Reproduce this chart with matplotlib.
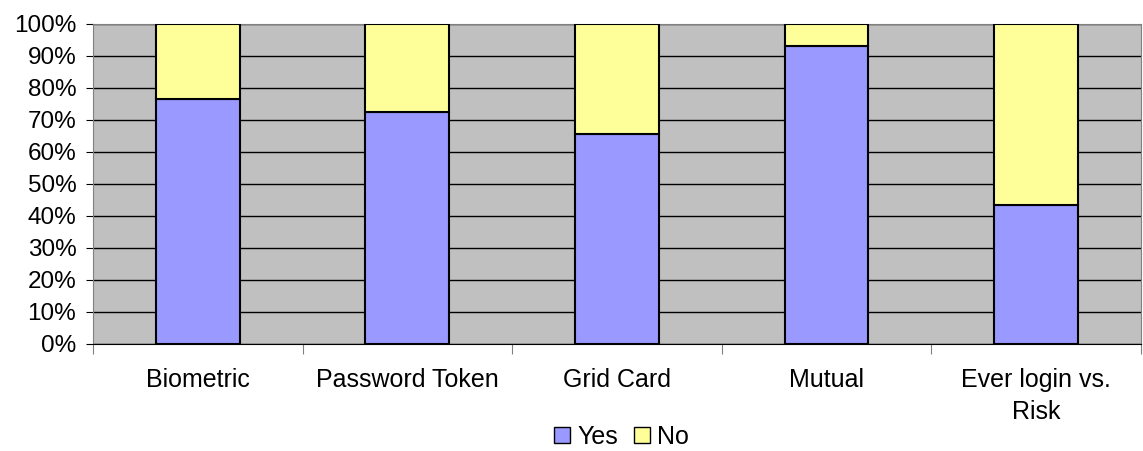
import numpy as np
import matplotlib.pyplot as plt
from matplotlib.patches import Patch

plt.rcParams['font.family'] = ['Liberation Sans', 'DejaVu Sans']

# Dados do gráfico (percentual empilhado)
categorias = ['Biometric', 'Password Token', 'Grid Card', 'Mutual', 'Ever login vs.\nRisk']
sim = [76.7, 72.5, 65.5, 93.0, 43.5]
nao = [100 - v for v in sim]

cor_sim = '#9999FF'
cor_nao = '#FFFF99'

fig = plt.figure(figsize=(11.43, 4.51), dpi=100)
ax = fig.add_axes([0.0814, 0.2373, 0.9166, 0.7095])
ax.set_facecolor('#C0C0C0')

x = np.arange(len(categorias))
ax.bar(x, sim, width=0.4, color=cor_sim, edgecolor='black', linewidth=1.5, zorder=3)
ax.bar(x, nao, width=0.4, bottom=sim, color=cor_nao, edgecolor='black', linewidth=1.5, zorder=3)

ax.set_xlim(-0.5, len(categorias) - 0.5)
ax.set_ylim(0, 100)
ax.set_yticks(np.arange(0, 101, 10))
ax.set_yticklabels([f'{v}%' for v in range(0, 101, 10)], fontsize=17.5)
ax.yaxis.grid(True, color='black', linewidth=1, zorder=1)
ax.set_axisbelow(True)

# rótulos no centro, ticks nas fronteiras
ax.set_xticks(np.arange(-0.5, len(categorias), 1))
ax.set_xticklabels([])
ax.set_xticks(x, minor=True)
ax.set_xticklabels(categorias, minor=True, fontsize=18, linespacing=1.45)
ax.tick_params(axis='x', which='minor', length=0, pad=17)
ax.tick_params(axis='x', which='major', length=7, color='#808080')
ax.tick_params(axis='y', length=5, color='black', pad=7)

for lado in ['left', 'bottom', 'top', 'right']:
    ax.spines[lado].set_color('#808080')
ax.spines['bottom'].set_color('black')

handles = [Patch(facecolor=cor_sim, edgecolor='black', label='Yes'),
           Patch(facecolor=cor_nao, edgecolor='black', label='No')]
fig.legend(handles=handles, loc='lower center', bbox_to_anchor=(0.544, -0.045), ncol=2,
           frameon=False, fontsize=18, handlelength=0.65, handleheight=0.65,
           handletextpad=0.3, columnspacing=0.6)

plt.savefig('out.png', dpi=100)
